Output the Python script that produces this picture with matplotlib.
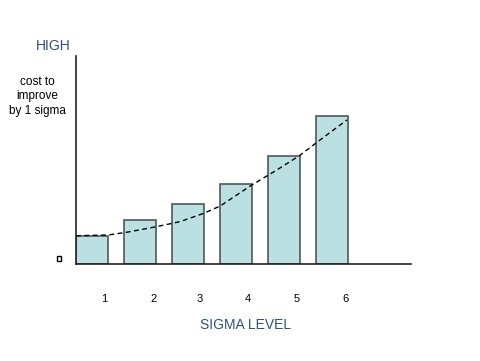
import matplotlib
matplotlib.use('Agg')
import matplotlib.pyplot as plt

plt.rcParams['font.family'] = ['Liberation Sans', 'DejaVu Sans']

# data
sigma_levels = [1, 2, 3, 4, 5, 6]
cost = [28, 44, 60, 80, 108, 148]
tick_labels = ['1', '2', '3', '4', '5', '6']

# dashed trend curve
trend_x = [0.667, 1.34, 1.72, 2.34, 2.83, 3.33, 3.67, 4.33, 4.85, 5.32, 5.75, 6.31]
trend_y = [27.8, 28.5, 31.2, 36.8, 41.8, 50.2, 57.5, 78.5, 93.5, 107.8, 123.5, 143.5]

W, H = 481, 361
fig = plt.figure(figsize=(W / 100, H / 100), dpi=100)
ax = fig.add_axes([76 / W, (H - 263.5) / H, 335.5 / W, 207.5 / H])

ax.bar(sigma_levels, cost, width=0.667, color='#bae0e2',
       edgecolor='#505858', linewidth=1.2, zorder=2)
ax.plot(trend_x, trend_y, linestyle=(0, (3.5, 2.5)), color='black',
        linewidth=1.0, zorder=3)

ax.set_xlim(0.667, 7.656)
ax.set_ylim(0, 207.5)

for s in ['top', 'right']:
    ax.spines[s].set_visible(False)
for s in ['left', 'bottom']:
    ax.spines[s].set_linewidth(1.2)
    ax.spines[s].set_color('#222222')

# tick labels sit a little right of each bar centre
label_shift = [0.25, 0.28, 0.25, 0.24, 0.27, 0.29]
ax.set_xticks([x + d for x, d in zip(sigma_levels, label_shift)])
ax.set_xticklabels(tick_labels, fontsize=8)
ax.tick_params(axis='x', length=0, pad=22)
ax.set_yticks([])

blue = '#2c5187'
fig.text(53 / W, 1 - 46 / H, 'HIGH', color=blue, fontsize=10,
         ha='center', va='center')
fig.text(37 / W, 1 - 96.5 / H, 'cost to\nimprove\nby 1 sigma', fontsize=8.5,
         ha='center', va='center', linespacing=1.3)
fig.text(246 / W, 1 - 325 / H, 'SIGMA LEVEL', color=blue, fontsize=10,
         ha='center', va='center')

# small box marker at the origin side
fig.patches.append(plt.Rectangle((56.5 / W, 1 - 260.5 / H), 4 / W, 5 / H,
                                 transform=fig.transFigure, facecolor='white',
                                 edgecolor='black', linewidth=1.0))

fig.savefig('out.png', dpi=100)
